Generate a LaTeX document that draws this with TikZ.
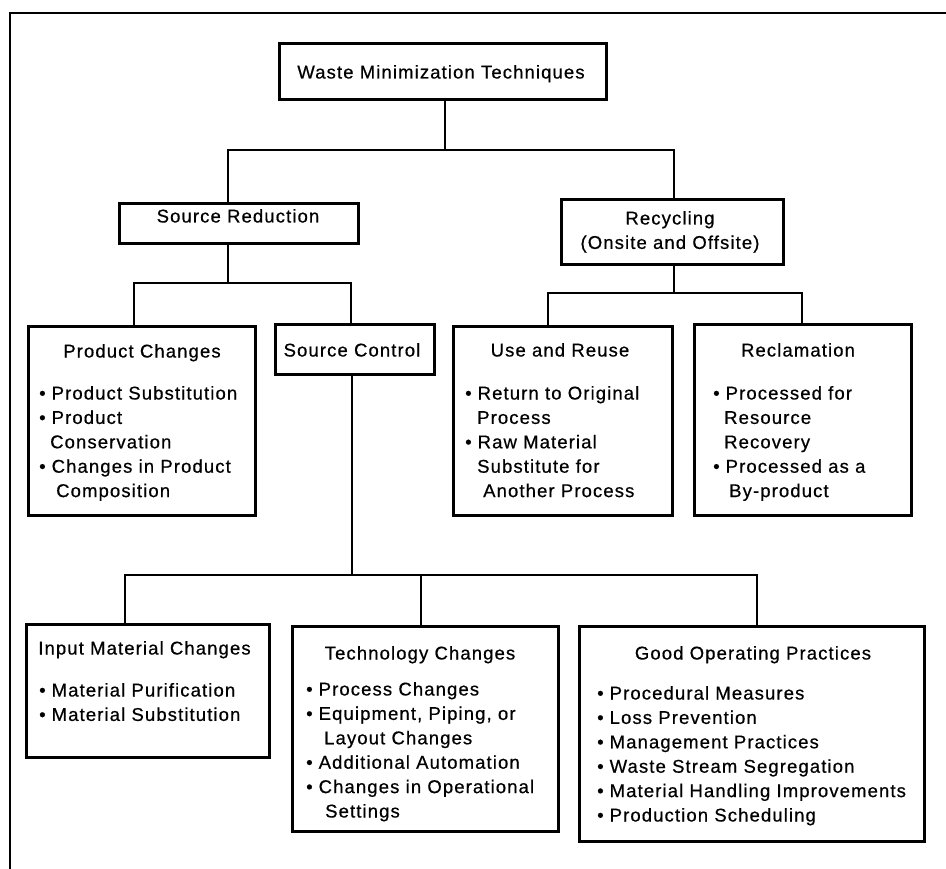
\documentclass[tikz,border=0pt]{standalone}
\usepackage{fontspec}
\setmainfont{Liberation Sans}[LetterSpace=6,FakeBold=0.6]
\newcommand\fs{\fontsize{18.5}{24.4}\selectfont}
\newcommand\bitem[1]{\makebox[12.5pt][l]{\textbullet}#1}
\newcommand\bcont[2][12.5pt]{\hspace*{#1}#2}
\newcommand\blist[1]{\begin{tabular}[t]{@{}l@{}}#1\end{tabular}}
\newcommand\clist[1]{\begin{tabular}[t]{@{}c@{}}#1\end{tabular}}
\begin{document}
\begin{tikzpicture}[x=1pt,y=-1pt,
  box/.style={draw,line width=2.7pt,inner sep=0pt,anchor=north west},
  txt/.style={inner sep=0pt,font=\fs},
  ttl/.style={txt,anchor=base},
  lst/.style={txt,anchor=base west},
  conn/.style={line width=2.7pt}]
\useasboundingbox (0,0) rectangle (946,869);
\draw[line width=2.8pt] (946,13) -- (10,13) -- (10,869);

% boxes
\node[box,minimum width=327pt,minimum height=56pt] (top) at (278,42) {};
\node[box,minimum width=239pt,minimum height=40pt] (sr) at (118,202) {};
\node[box,minimum width=222pt,minimum height=65pt] (rec) at (560,198) {};
\node[box,minimum width=227pt,minimum height=189pt] (pc) at (27,325) {};
\node[box,minimum width=159pt,minimum height=50pt] (sc) at (274,323) {};
\node[box,minimum width=219pt,minimum height=189pt] (ur) at (452,325) {};
\node[box,minimum width=217pt,minimum height=191pt] (recl) at (693,323) {};
\node[box,minimum width=243pt,minimum height=133pt] (imc) at (25,623) {};
\node[box,minimum width=266pt,minimum height=205pt] (tc) at (291,625) {};
\node[box,minimum width=345pt,minimum height=215pt] (gop) at (578,625) {};

% titles
\node[ttl] (topT) at (441,78.5) {Waste Minimization Techniques};
\node[ttl] (srT) at (238,222.5) {Source Reduction};
\node[ttl] (recT) at (670,224.5) {\clist{Recycling\\(Onsite and Offsite)}};
\node[ttl] (pcT) at (142,357.5) {Product Changes};
\node[ttl] (scT) at (352,356.5) {Source Control};
\node[ttl] (urT) at (560,356.5) {Use and Reuse};
\node[ttl] (reclT) at (798,356.5) {Reclamation};
\node[ttl] (imcT) at (144.5,654.5) {Input Material Changes};
\node[ttl] (tcT) at (420,659.5) {Technology Changes};
\node[ttl] (gopT) at (753,659.5) {Good Operating Practices};

% lists
\node[lst] (pcL) at (39,399.5) {\blist{\bitem{Product Substitution}\\ \bitem{Product}\\ \bcont[11pt]{Conservation}\\ \bitem{Changes in Product}\\ \bcont[17pt]{Composition}}};
\node[lst] (urL) at (465,399.5) {\blist{\bitem{Return to Original}\\ \bcont[12pt]{Process}\\ \bitem{Raw Material}\\ \bcont[12pt]{Substitute for}\\ \bcont[18pt]{Another Process}}};
\node[lst] (reclL) at (713,399.5) {\blist{\bitem{Processed for}\\ \bcont[11pt]{Resource}\\ \bcont[11pt]{Recovery}\\ \bitem{Processed as a}\\ \bcont[16pt]{By-product}}};
\node[lst] (imcL) at (39,696.5) {\blist{\bitem{Material Purification}\\ \bitem{Material Substitution}}};
\node[lst] (tcL) at (306,695.5) {\blist{\bitem{Process Changes}\\ \bitem{Equipment, Piping, or}\\ \bcont[18pt]{Layout Changes}\\ \bitem{Additional Automation}\\ \bitem{Changes in Operational}\\ \bcont[19pt]{Settings}}};
\node[lst] (gopL) at (597,699.5) {\blist{\bitem{Procedural Measures}\\ \bitem{Loss Prevention}\\ \bitem{Management Practices}\\ \bitem{Waste Stream Segregation}\\ \bitem{Material Handling Improvements}\\ \bitem{Production Scheduling}}};

% connectors
\coordinate (j0) at (445,150);
\coordinate (jL) at (228,150);
\coordinate (jR) at (674,150);
\draw[conn] (top.south -| j0) -- (j0);
\draw[conn] (sr.north -| jL) -- (jL) -- (jR) -- (rec.north -| jR);

\coordinate (k0) at (228,283);
\coordinate (kL) at (134,283);
\coordinate (kR) at (351,283);
\draw[conn] (sr.south -| k0) -- (k0);
\draw[conn] (pc.north -| kL) -- (kL) -- (kR) -- (sc.north -| kR);

\coordinate (m0) at (674,293);
\coordinate (mL) at (548,293);
\coordinate (mR) at (802,293);
\draw[conn] (rec.south -| m0) -- (m0);
\draw[conn] (ur.north -| mL) -- (mL) -- (mR) -- (recl.north -| mR);

\coordinate (n0) at (352,575);
\coordinate (nL) at (125,575);
\coordinate (nM) at (421,575);
\coordinate (nR) at (757,575);
\draw[conn] (sc.south -| n0) -- (n0);
\draw[conn] (imc.north -| nL) -- (nL) -- (nR) -- (gop.north -| nR);
\draw[conn] (nM) -- (tc.north -| nM);
\end{tikzpicture}
\end{document}
